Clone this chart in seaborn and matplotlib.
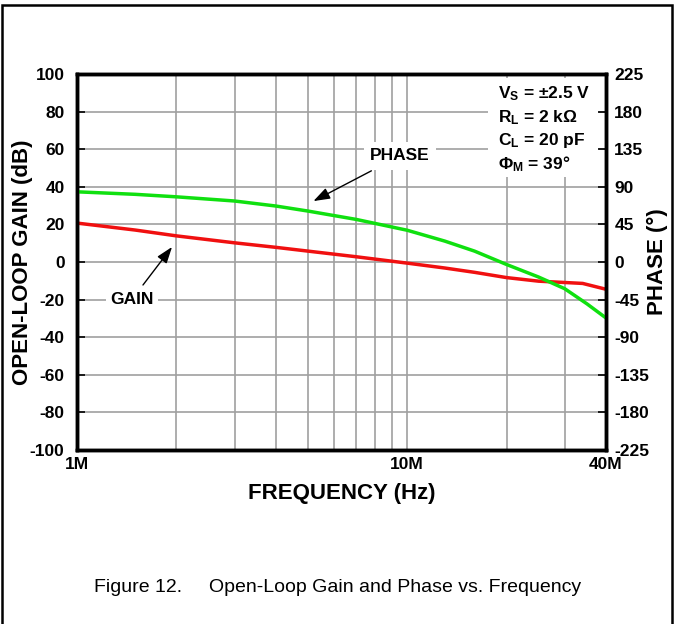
import matplotlib
matplotlib.use("Agg")
import matplotlib.pyplot as plt
import matplotlib.ticker as mticker
from matplotlib.patches import Rectangle
import seaborn as sns
import pandas as pd

# values
freq_mhz = [1, 1.5, 2, 3, 4, 5, 7, 10, 13, 16, 20, 25, 30, 34, 40]
gain_db = [20.7, 17.0, 13.9, 10.2, 7.8, 5.8, 2.8, -0.6, -3.2, -5.5, -8.3, -10.2, -10.9, -11.4, -14.5]
freq_mhz_ph = [1, 1.5, 2, 3, 4, 5, 7, 10, 13, 16, 20, 25, 30, 35, 40]
phase_deg = [84, 81, 78, 73, 67, 61, 51, 38, 25, 13, -3, -18, -32, -50, -67]

gain_ticks = list(range(-100, 101, 20))
phase_ticks = list(range(-225, 226, 45))
x_major = [1e6, 1e7, 4e7]
x_major_labels = ["1M", "10M", "40M"]
x_minor = [2e6, 3e6, 4e6, 5e6, 6e6, 7e6, 8e6, 9e6, 2e7, 3e7]

cond_lines = [r"V$_\mathrm{S}$ = ±2.5 V", r"R$_\mathrm{L}$ = 2 kΩ",
              r"C$_\mathrm{L}$ = 20 pF", r"Φ$_\mathrm{M}$ = 39°"]

gain_df = pd.DataFrame({"freq": [f * 1e6 for f in freq_mhz], "gain": gain_db})
phase_df = pd.DataFrame({"freq": [f * 1e6 for f in freq_mhz_ph], "phase": phase_deg})

sns.set_style("white")
plt.rcParams["font.family"] = ["Liberation Sans", "DejaVu Sans"]
plt.rcParams["font.weight"] = "bold"
plt.rcParams["axes.labelweight"] = "bold"
plt.rcParams["axes.unicode_minus"] = False
for key in ["text.color", "axes.labelcolor", "xtick.color", "ytick.color"]:
    plt.rcParams[key] = "black"
plt.rcParams["mathtext.fontset"] = "custom"
plt.rcParams["mathtext.rm"] = "Liberation Sans:bold"
plt.rcParams["mathtext.it"] = "Liberation Sans:bold"
plt.rcParams["mathtext.bf"] = "Liberation Sans:bold"

fig = plt.figure(figsize=(6.75, 6.24), dpi=100)
ax = fig.add_axes([77 / 675, 1 - 450 / 624, 529 / 675, 376 / 624])
ax2 = ax.twinx()

sns.lineplot(data=gain_df, x="freq", y="gain", ax=ax, color="#f01010", lw=2.5)
sns.lineplot(data=phase_df, x="freq", y="phase", ax=ax2, color="#10e010", lw=2.5)

ax.set_xscale("log")
ax.set_xlim(1e6, 4e7)
ax.set_ylim(-100, 100)
ax2.set_ylim(-225, 225)
ax.xaxis.set_major_locator(mticker.FixedLocator(x_major))
ax.xaxis.set_major_formatter(mticker.FixedFormatter(x_major_labels))
ax.xaxis.set_minor_locator(mticker.FixedLocator(x_minor))
ax.xaxis.set_minor_formatter(mticker.NullFormatter())
ax.set_yticks(gain_ticks)
ax2.set_yticks(phase_ticks)

ax.set_axisbelow(True)
ax.grid(True, which="both", axis="x", color="#a0a0a0", lw=1.2)
ax.grid(True, which="major", axis="y", color="#a0a0a0", lw=1.2)

ax.tick_params(axis="x", which="both", length=0, labelsize=12.5, pad=5)
ax.tick_params(axis="y", direction="in", length=6, width=1.2, color="black",
               labelsize=12.5, pad=9)
ax2.tick_params(axis="y", direction="in", length=6, width=1.2, color="black",
                labelsize=12.5, pad=6)
for a in (ax, ax2):
    for s in a.spines.values():
        s.set_linewidth(2.5)
        s.set_color("black")

ax.set_xlabel("FREQUENCY (Hz)", fontsize=16, labelpad=8)
ax.set_ylabel("OPEN-LOOP GAIN (dB)", fontsize=16)
ax2.set_ylabel("PHASE (°)", fontsize=16)
ax.yaxis.set_label_coords(-0.083, 0.5)
ax2.yaxis.set_label_coords(1.077, 0.5)

# conditions block with white background over the grid
ax.add_patch(Rectangle((0.777, 0.726), 0.21, 0.263, transform=ax.transAxes,
                       facecolor="white", edgecolor="none", zorder=2))
for yy, line in zip([0.949, 0.885, 0.823, 0.761], cond_lines):
    ax.text(0.795, yy, line, transform=ax.transAxes, fontsize=12.5,
            ha="left", va="center", zorder=3)

arrow = dict(arrowstyle="-|>,head_length=0.8,head_width=0.28", color="black",
             lw=1, shrinkA=2, shrinkB=0)
ax.annotate("PHASE", xy=(5.2e6, 32.4), xytext=(9.5e6, 56.4), fontsize=12.5,
            ha="center", va="center", zorder=3, arrowprops=arrow,
            bbox=dict(boxstyle="square,pad=0.35", fc="white", ec="none"))
ax.annotate("GAIN", xy=(1.94e6, 8.0), xytext=(1.47e6, -19.7), fontsize=12.5,
            ha="center", va="center", zorder=3, arrowprops=arrow,
            bbox=dict(boxstyle="square,pad=0.25", fc="white", ec="none"))

fig.text(0.5, 1 - 588 / 624, "Figure 12.     Open-Loop Gain and Phase vs. Frequency",
         family=["Liberation Sans Narrow", "Liberation Sans"], fontweight="normal",
         fontsize=14, ha="center", va="center")

# page frame (open at the bottom)
fig.add_artist(Rectangle((2 / 675, -0.1), 670 / 675, 1.1 - 5 / 624,
                         transform=fig.transFigure, fill=False,
                         edgecolor="black", lw=1.8))

fig.savefig("out.png", dpi=100)
